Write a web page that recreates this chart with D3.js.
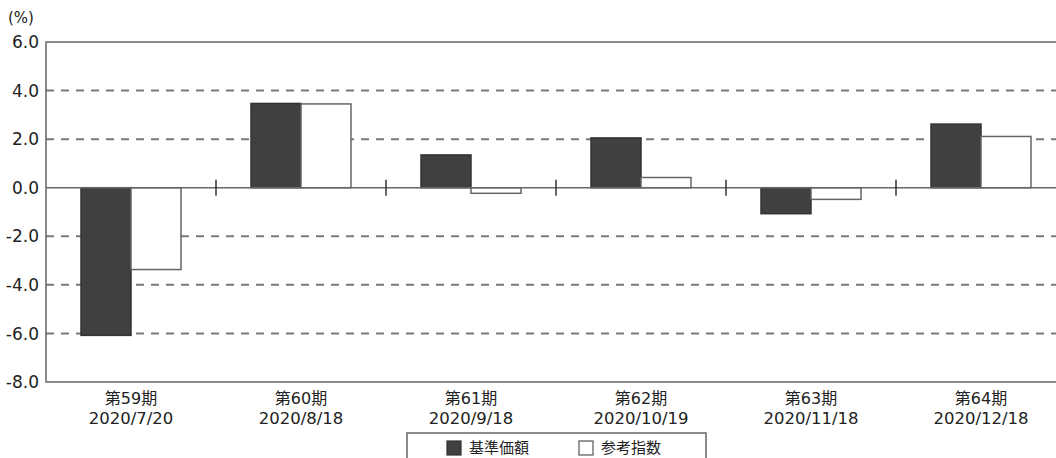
<!DOCTYPE html>
<html>
<head>
<meta charset="utf-8">
<script src="https://cdn.jsdelivr.net/npm/d3@7"></script>
<style>
  body { margin: 0; background: #fff; overflow: hidden; }
  svg { display: block; font-family: "DejaVu Sans", "Noto Sans CJK JP", sans-serif; }
</style>
</head>
<body>
<div id="chart"></div>
<script>
// period labels and dates
const periods = ["第59期", "第60期", "第61期", "第62期", "第63期", "第64期"];
const dates   = ["2020/7/20", "2020/8/18", "2020/9/18", "2020/10/19", "2020/11/18", "2020/12/18"];

// returns (%) per period
const fundValues  = [-6.08, 3.47, 1.35, 2.05, -1.07, 2.62];   // 基準価額
const indexValues = [-3.37, 3.45, -0.23, 0.42, -0.48, 2.11];  // 参考指数

const seriesNames = ["基準価額", "参考指数"];
const yTicks = [6, 4, 2, 0, -2, -4, -6, -8];

const width = 1056, height = 458;
const margin = { top: 42, left: 46 };
const plotW = 1020, plotH = 340;

const svg = d3.select("#chart").append("svg")
    .attr("width", width)
    .attr("height", height);

const g = svg.append("g").attr("transform", `translate(${margin.left},${margin.top})`);

const y = d3.scaleLinear().domain([-8, 6]).range([plotH, 0]);
const x = d3.scaleBand().domain(periods).range([0, plotW]);
const xs = d3.scaleBand().domain(seriesNames).range([0, x.bandwidth()]).paddingOuter(0.7);

// dashed grid (not on 0 or on the frame)
g.append("g")
    .selectAll("line")
    .data(yTicks.filter(t => t !== 0 && t !== 6 && t !== -8))
    .join("line")
    .attr("x1", 0).attr("x2", plotW)
    .attr("y1", d => y(d)).attr("y2", d => y(d))
    .attr("stroke", "#7a7a7a")
    .attr("stroke-width", 2)
    .attr("stroke-dasharray", "8,7");

// bars
const data = periods.map((p, i) => ({ p, vals: [fundValues[i], indexValues[i]] }));

const groups = g.append("g")
    .selectAll("g")
    .data(data)
    .join("g")
    .attr("transform", d => `translate(${x(d.p)},0)`);

groups.selectAll("rect")
    .data(d => d.vals.map((v, k) => ({ v, k })))
    .join("rect")
    .attr("x", d => xs(seriesNames[d.k]))
    .attr("width", xs.bandwidth())
    .attr("y", d => y(Math.max(0, d.v)))
    .attr("height", d => Math.abs(y(d.v) - y(0)))
    .attr("fill", d => d.k === 0 ? "#404040" : "#fff")
    .attr("stroke", d => d.k === 0 ? "#333" : "#666")
    .attr("stroke-width", 1.5);

// zero line
g.append("line")
    .attr("x1", 0).attr("x2", plotW)
    .attr("y1", y(0)).attr("y2", y(0))
    .attr("stroke", "#666").attr("stroke-width", 1.5);

// small ticks between periods on zero line
g.append("g")
    .selectAll("line")
    .data(periods.slice(1))
    .join("line")
    .attr("x1", d => x(d)).attr("x2", d => x(d))
    .attr("y1", y(0) - 8).attr("y2", y(0) + 8)
    .attr("stroke", "#333").attr("stroke-width", 1.5);

// frame
g.append("rect")
    .attr("x", 0).attr("y", 0)
    .attr("width", plotW).attr("height", plotH)
    .attr("fill", "none")
    .attr("stroke", "#666").attr("stroke-width", 1.5);

// y labels
g.append("g")
    .selectAll("text")
    .data(yTicks)
    .join("text")
    .attr("x", -7)
    .attr("y", d => y(d))
    .attr("dy", "0.36em")
    .attr("text-anchor", "end")
    .attr("font-size", 17)
    .attr("fill", "#222")
    .text(d => d.toFixed(1));

svg.append("text")
    .attr("x", 8).attr("y", 23)
    .attr("font-size", 15)
    .attr("fill", "#222")
    .text("(%)");

// x labels
const xl = g.append("g")
    .selectAll("text")
    .data(periods)
    .join("text")
    .attr("text-anchor", "middle")
    .attr("fill", "#222");
xl.append("tspan").attr("x", d => x(d) + x.bandwidth() / 2).attr("y", plotH + 22)
    .attr("font-size", 16).text(d => d);
xl.append("tspan").attr("x", d => x(d) + x.bandwidth() / 2).attr("y", plotH + 42)
    .attr("font-size", 16.5).text((d, i) => dates[i]);

// legend
const lg = svg.append("g").attr("transform", "translate(407,433)");
lg.append("rect")
    .attr("width", 299).attr("height", 40)
    .attr("fill", "#fff")
    .attr("stroke", "#666").attr("stroke-width", 1.5);

const items = lg.selectAll("g.item")
    .data(seriesNames)
    .join("g")
    .attr("transform", (d, i) => `translate(${i === 0 ? 40 : 172},8)`);
items.append("rect")
    .attr("width", 14).attr("height", 14)
    .attr("fill", (d, i) => i === 0 ? "#404040" : "#fff")
    .attr("stroke", (d, i) => i === 0 ? "#333" : "#555")
    .attr("stroke-width", 1.2);
items.append("text")
    .attr("x", 22).attr("y", 7)
    .attr("dy", "0.34em")
    .attr("font-size", 15)
    .attr("fill", "#222")
    .text(d => d);
</script>
</body>
</html>
